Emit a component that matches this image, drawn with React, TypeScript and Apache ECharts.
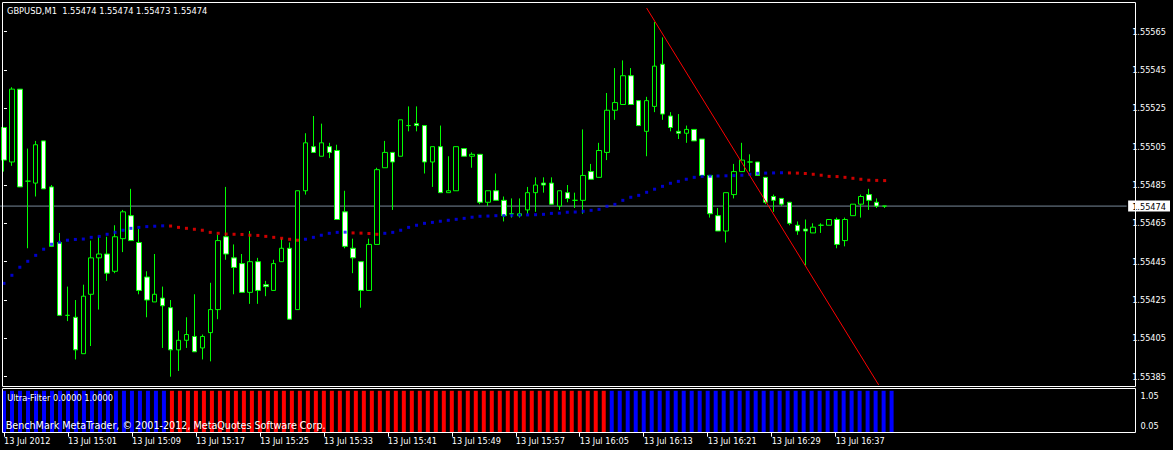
import React, { useEffect, useRef } from "react";
import * as echarts from "echarts";

const symbolTitle = "GBPUSD,M1\u00a0 1.55474 1.55474 1.55473 1.55474";
const indicatorTitle = "Ultra-Filter 0.0000 1.0000";
const copyright = "BenchMark MetaTrader, \u00a9 2001-2012, MetaQuotes Software Corp.";

const tickLabels = [
  "13 Jul 2012", "13 Jul 15:01", "13 Jul 15:09", "13 Jul 15:17", "13 Jul 15:25",
  "13 Jul 15:33", "13 Jul 15:41", "13 Jul 15:49", "13 Jul 15:57", "13 Jul 16:05",
  "13 Jul 16:13", "13 Jul 16:21", "13 Jul 16:29", "13 Jul 16:37",
];

// [open, high, low, close]
const ohlc: number[][] = [
  [1.55515, 1.55515, 1.55492, 1.55498], [1.55497, 1.55536, 1.55495, 1.55535], [1.55535, 1.55535, 1.55484, 1.55484],
  [1.55487, 1.55504, 1.55452, 1.55487], [1.55486, 1.55508, 1.55479, 1.55506], [1.55508, 1.55508, 1.55483, 1.55483],
  [1.55484, 1.55485, 1.55453, 1.55453], [1.55455, 1.5546, 1.55417, 1.55417], [1.55417, 1.55432, 1.55414, 1.55417],
  [1.55416, 1.55425, 1.55394, 1.55399], [1.55397, 1.55433, 1.55397, 1.55427], [1.55428, 1.55456, 1.55401, 1.55447],
  [1.55447, 1.55458, 1.5542, 1.55449], [1.55449, 1.55458, 1.55435, 1.55439], [1.5544, 1.55464, 1.55439, 1.55458],
  [1.55457, 1.55472, 1.5545, 1.55471], [1.55469, 1.55483, 1.55456, 1.55456], [1.55455, 1.55462, 1.55428, 1.5543],
  [1.55437, 1.5544, 1.55416, 1.55425], [1.55424, 1.55449, 1.55424, 1.55428], [1.55426, 1.55432, 1.554, 1.55422],
  [1.55421, 1.55425, 1.55385, 1.55399], [1.55399, 1.55409, 1.55388, 1.55404], [1.55404, 1.55416, 1.554, 1.55407],
  [1.55406, 1.55428, 1.55398, 1.55398], [1.554, 1.55407, 1.55394, 1.55406], [1.55408, 1.55434, 1.55393, 1.5542],
  [1.5542, 1.55459, 1.55415, 1.55456], [1.55458, 1.55484, 1.55446, 1.55449], [1.55447, 1.55454, 1.55428, 1.55442],
  [1.55444, 1.55449, 1.55429, 1.55429], [1.55429, 1.55461, 1.55423, 1.55445], [1.55445, 1.55447, 1.55423, 1.5543],
  [1.55433, 1.55435, 1.55427, 1.55432], [1.5543, 1.55446, 1.5543, 1.55444], [1.55445, 1.55457, 1.55445, 1.55452],
  [1.55452, 1.55455, 1.55415, 1.55415], [1.5542, 1.55482, 1.5542, 1.55482], [1.55482, 1.55512, 1.5548, 1.55507],
  [1.55505, 1.55521, 1.55502, 1.55502], [1.555, 1.55517, 1.555, 1.55507], [1.55505, 1.55507, 1.55499, 1.55502],
  [1.55503, 1.55506, 1.55467, 1.55467], [1.55471, 1.55482, 1.55452, 1.55453], [1.55452, 1.55457, 1.55439, 1.55447],
  [1.55445, 1.55445, 1.55421, 1.5543], [1.5543, 1.55457, 1.5543, 1.55454], [1.55454, 1.55494, 1.55454, 1.55493],
  [1.55494, 1.55508, 1.55494, 1.55502], [1.55502, 1.55502, 1.55472, 1.55497], [1.555, 1.55519, 1.555, 1.55519],
  [1.55516, 1.55526, 1.55513, 1.55516], [1.55517, 1.55526, 1.55513, 1.55516], [1.55516, 1.55516, 1.55491, 1.55497],
  [1.55497, 1.55505, 1.55484, 1.55505], [1.55505, 1.55516, 1.55481, 1.55481], [1.55481, 1.555, 1.55481, 1.55482],
  [1.55482, 1.55505, 1.55482, 1.55505], [1.55504, 1.55504, 1.555, 1.555], [1.555, 1.55502, 1.55494, 1.55501],
  [1.55501, 1.55501, 1.55475, 1.55476], [1.55476, 1.55482, 1.55474, 1.55482], [1.55482, 1.55491, 1.55477, 1.55477],
  [1.55477, 1.55479, 1.55466, 1.55469], [1.5547, 1.55478, 1.55468, 1.5547], [1.55469, 1.55478, 1.55468, 1.5547],
  [1.55472, 1.55484, 1.5547, 1.55481], [1.55481, 1.55489, 1.55471, 1.55485], [1.55486, 1.55489, 1.55481, 1.55485],
  [1.55486, 1.55489, 1.55475, 1.55475], [1.55474, 1.55482, 1.55472, 1.55482], [1.55481, 1.55485, 1.55476, 1.55478],
  [1.55477, 1.55481, 1.55473, 1.55477], [1.55477, 1.55514, 1.5547, 1.5549], [1.55492, 1.55496, 1.55488, 1.55488],
  [1.55489, 1.55507, 1.55489, 1.55503], [1.55502, 1.55533, 1.55498, 1.55524], [1.55524, 1.55546, 1.55519, 1.55528],
  [1.55527, 1.5555, 1.55527, 1.55542], [1.55542, 1.55546, 1.55527, 1.55527], [1.55529, 1.55529, 1.55516, 1.55516],
  [1.55513, 1.55531, 1.555, 1.55529], [1.55526, 1.5557, 1.55523, 1.55547], [1.55548, 1.55562, 1.55519, 1.55522],
  [1.55521, 1.55523, 1.55513, 1.55515], [1.55513, 1.55522, 1.55509, 1.55512], [1.55512, 1.55516, 1.55507, 1.55514],
  [1.55514, 1.55514, 1.55508, 1.55508], [1.55509, 1.55509, 1.5549, 1.5549], [1.5549, 1.5549, 1.55468, 1.5547],
  [1.55469, 1.55473, 1.55461, 1.55461], [1.55461, 1.55481, 1.55455, 1.55481], [1.5548, 1.55496, 1.55478, 1.55492],
  [1.55492, 1.55507, 1.55492, 1.55498], [1.55497, 1.55501, 1.55492, 1.55497], [1.55497, 1.55497, 1.5549, 1.5549],
  [1.55489, 1.55489, 1.55475, 1.55476], [1.55479, 1.5548, 1.55471, 1.55477], [1.55478, 1.55478, 1.55474, 1.55475],
  [1.55476, 1.55476, 1.55464, 1.55465], [1.55464, 1.55466, 1.55459, 1.55461], [1.55462, 1.55467, 1.55443, 1.55461],
  [1.5546, 1.55465, 1.5546, 1.55463], [1.55464, 1.55465, 1.5546, 1.55464], [1.55464, 1.55467, 1.55464, 1.55467],
  [1.55467, 1.55468, 1.55452, 1.55454], [1.55456, 1.55468, 1.55453, 1.55467], [1.55469, 1.55475, 1.55469, 1.55475],
  [1.55475, 1.5548, 1.55468, 1.55479], [1.5548, 1.55483, 1.55472, 1.55477], [1.55476, 1.55478, 1.55473, 1.55474],
  [1.55474, 1.55474, 1.55473, 1.55474],
];

const maValues = [
  1.554337, 1.554379, 1.554421, 1.554452, 1.554483, 1.554515, 1.554541, 1.554551, 1.554562, 1.554566,
  1.554568, 1.554577, 1.554582, 1.554593, 1.554603, 1.554614, 1.554624, 1.554629, 1.554633, 1.554635,
  1.554637, 1.554636, 1.554629, 1.554624, 1.554619, 1.554614, 1.554603, 1.554598, 1.554594, 1.554593,
  1.554592, 1.554588, 1.554587, 1.554582, 1.554577, 1.554572, 1.554567, 1.554562, 1.554567, 1.554577,
  1.554588, 1.554598, 1.554603, 1.554604, 1.5546, 1.554599, 1.554597, 1.554593, 1.554598, 1.554603,
  1.554614, 1.554629, 1.55464, 1.55465, 1.554655, 1.554661, 1.554666, 1.554671, 1.554676, 1.554682,
  1.554687, 1.554688, 1.55469, 1.554691, 1.554692, 1.554693, 1.554694, 1.554695, 1.554697, 1.554702,
  1.554703, 1.554708, 1.554709, 1.554713, 1.554718, 1.554723, 1.554739, 1.554749, 1.55477, 1.554786,
  1.554796, 1.554812, 1.554828, 1.554843, 1.554859, 1.554869, 1.55488, 1.55489, 1.554895, 1.554896,
  1.554897, 1.554898, 1.554899, 1.554901, 1.554906, 1.554911, 1.554912, 1.554913, 1.554914, 1.554913,
  1.554912, 1.55491, 1.554906, 1.554901, 1.554895, 1.554894, 1.55489, 1.554885, 1.55488, 1.554875,
  1.554874, 1.554873,
];

// runs of the moving average colour: up = blue, down = red
const maRuns: [string, number][] = [["up", 21], ["down", 17], ["up", 6], ["down", 4], ["up", 51], ["down", 13]];
// runs of the Ultra-Filter histogram (value 1.0000)
const filterRuns: [string, number][] = [["up", 21], ["down", 55], ["up", 36]];
const filterValue = 1;

const bidPrice = 1.55474;
const priceTicks = [1.55385, 1.55405, 1.55425, 1.55445, 1.55465, 1.55485, 1.55505, 1.55525, 1.55545, 1.55565];
const subTicks = [1.05, 0.05, 0];
// trend line: [bar index, price]
const trendLine = [[81.0, 1.555773], [110.25, 1.553807]];

const slotCount = 142;
const FONT = "DejaVu Sans";
const UP = "#0000ff";
const DOWN = "#ff0000";

function expandRuns(runs: [string, number][]) {
  const out: string[] = [];
  runs.forEach(([c, n]) => {
    for (let i = 0; i < n; i++) out.push(c === "up" ? UP : DOWN);
  });
  return out;
}

export default function App() {
  const ref = useRef<HTMLDivElement>(null);
  useEffect(() => {
    document.body.style.margin = "0";
    const chart = echarts.init(ref.current!, null, { renderer: "svg" });
    const cats = Array.from({ length: slotCount }, (_, i) => String(i));
    const maColors = expandRuns(maRuns);
    const filterColors = expandRuns(filterRuns);
    const showTick = (idx: number) => idx % 8 === 0 && idx / 8 < tickLabels.length;
    const labelValues = [...priceTicks, bidPrice];

    const option: any = {
      animation: false,
      backgroundColor: "#000",
      grid: [
        { left: -0.5, width: 1136, top: 3, height: 383 },
        { left: -0.5, width: 1136, top: 388.7, height: 44 },
      ],
      xAxis: [
        { type: "category", gridIndex: 0, data: cats, boundaryGap: true, show: false },
        {
          type: "category",
          gridIndex: 1,
          data: cats,
          boundaryGap: true,
          axisLine: { show: false },
          axisTick: {
            show: true,
            alignWithLabel: true,
            interval: (idx: number) => showTick(idx),
            length: 4,
            lineStyle: { color: "#fff", width: 1 },
          },
          axisLabel: {
            interval: (idx: number) => showTick(idx),
            formatter: (_v: string, idx: number) => tickLabels[idx / 8] ?? "",
            align: "left",
            color: "#fff",
            fontFamily: FONT,
            fontSize: 8.2,
            margin: 4,
          },
        },
        { type: "value", gridIndex: 0, min: -0.5, max: slotCount - 0.5, show: false },
      ],
      yAxis: [
        {
          type: "value",
          gridIndex: 0,
          position: "right",
          min: 1.5538015,
          max: 1.5557994,
          splitLine: { show: false },
          axisLine: { show: false },
          axisTick: { show: true, length: 3, lineStyle: { color: "#fff" }, customValues: priceTicks },
          axisLabel: {
            customValues: labelValues,
            margin: 1.5,
            formatter: (v: number) => (v === bidPrice ? `{bid|${v.toFixed(5)}}` : `{p|${v.toFixed(5)}}`),
            rich: {
              p: { color: "#fff", fontFamily: FONT, fontSize: 8.2, padding: [0, 0, 0, 4] },
              bid: {
                color: "#000",
                backgroundColor: "#fff",
                fontFamily: FONT,
                fontSize: 8.2,
                padding: [2, 4, 1, 4],
              },
            },
          },
        },
        {
          type: "value",
          gridIndex: 1,
          position: "right",
          min: 0,
          max: 1.05,
          splitLine: { show: false },
          axisLine: { show: false },
          axisTick: { show: false },
          axisLabel: {
            customValues: subTicks,
            margin: 5,
            formatter: (v: number) => (v > 1 ? `{t|${v.toFixed(2)}}` : `{b|${v.toFixed(2)}}`),
            rich: {
              t: { color: "#fff", fontFamily: FONT, fontSize: 8.2, padding: [14, 0, 0, 0] },
              b: { color: "#fff", fontFamily: FONT, fontSize: 8.2, padding: [0, 0, 10, 0] },
            },
          },
        },
      ],
      series: [
        {
          type: "line",
          name: "bid",
          xAxisIndex: 2,
          yAxisIndex: 0,
          symbol: "none",
          z: 1,
          lineStyle: { color: "#778899", width: 1 },
          data: [
            [-0.5, bidPrice],
            [slotCount - 0.5, bidPrice],
          ],
        },
        {
          type: "candlestick",
          xAxisIndex: 0,
          yAxisIndex: 0,
          barWidth: 5,
          clip: true,
          z: 2,
          data: ohlc.map(([o, h, l, c]) => [o, c, l, h]),
          itemStyle: {
            color: "#000000",
            color0: "#ffffff",
            borderColor: "#00ff00",
            borderColor0: "#00ff00",
            borderColorDoji: "#00ff00",
            borderWidth: 1,
          },
        },
        {
          type: "scatter",
          xAxisIndex: 0,
          yAxisIndex: 0,
          symbol: "rect",
          symbolSize: 3,
          z: 3,
          data: maValues.map((v, i) => ({ value: [i, v], itemStyle: { color: maColors[i] } })),
        },
        {
          type: "line",
          xAxisIndex: 2,
          yAxisIndex: 0,
          symbol: "none",
          clip: true,
          z: 4,
          lineStyle: { color: "#ff0000", width: 1 },
          data: trendLine,
        },
        {
          type: "bar",
          xAxisIndex: 1,
          yAxisIndex: 1,
          barWidth: 4,
          data: filterColors.map((c) => ({ value: filterValue, itemStyle: { color: c } })),
        },
      ],
      graphic: [
        {
          type: "rect",
          z: 100,
          silent: true,
          shape: { x: 2.5, y: 2.5, width: 1133, height: 384 },
          style: { fill: "none", stroke: "#fff", lineWidth: 1 },
        },
        {
          type: "rect",
          z: 100,
          silent: true,
          shape: { x: 2.5, y: 388.5, width: 1133, height: 44 },
          style: { fill: "none", stroke: "#fff", lineWidth: 1 },
        },
        {
          type: "text",
          z: 101,
          x: 7,
          y: 11,
          style: { text: symbolTitle, fill: "#fff", fontFamily: FONT, fontSize: 8.3, verticalAlign: "middle", textVerticalAlign: "middle" },
        },
        {
          type: "text",
          z: 101,
          x: 7.3,
          y: 398.3,
          style: { text: indicatorTitle, fill: "#fff", fontFamily: FONT, fontSize: 8.2, verticalAlign: "middle", textVerticalAlign: "middle" },
        },
        {
          type: "text",
          z: 101,
          x: 5.7,
          y: 425,
          style: { text: copyright, fill: "#fff", fontFamily: FONT, fontSize: 9.6, verticalAlign: "middle", textVerticalAlign: "middle" },
        },
      ],
    };
    chart.setOption(option);
    return () => chart.dispose();
  }, []);
  return <div ref={ref} style={{ width: 1173, height: 450, background: "#000" }} />;
}
